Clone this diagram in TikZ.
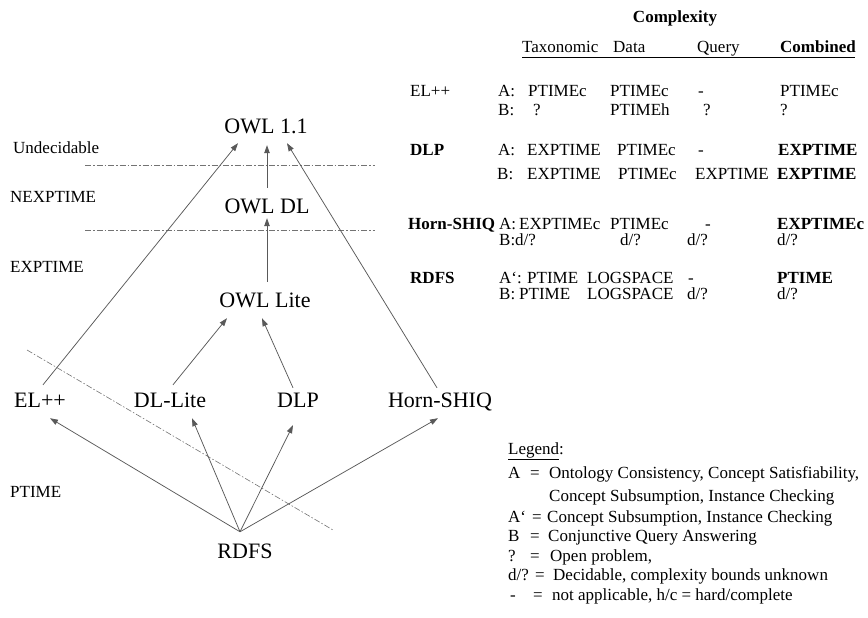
\documentclass[tikz,border=0pt]{standalone}
\usepackage{fontspec}
\setmainfont{Liberation Serif}
\usetikzlibrary{arrows.meta,calc}
\begin{document}
\begin{tikzpicture}[x=1pt,y=-1pt,
  lang/.style={font=\fontsize{22}{26}\selectfont, inner sep=0pt, text height=15pt, text depth=0pt},
  txt/.style={font=\fontsize{17}{20}\selectfont, inner sep=0pt, anchor=base west},
  btxt/.style={txt, font=\fontsize{17}{20}\selectfont\bfseries},
  sub/.style={draw=black!65, line width=0.75pt, -{Triangle[length=8pt,width=5.5pt]}},
  divider/.style={draw=black!55, line width=0.6pt, dash pattern=on 6pt off 2pt on 1.5pt off 2pt}]
\useasboundingbox (0,0) rectangle (868,618);

% ---- language hierarchy ----
\node[lang] (owl11)   at (266,126)   {OWL 1.1};
\node[lang] (owldl)   at (267,206)   {OWL DL};
\node[lang] (owllite) at (265,299.5) {OWL Lite};
\node[lang] (el)      at (40,400)    {EL++};
\node[lang] (dllite)  at (170,400)   {DL-Lite};
\node[lang] (dlp)     at (298,400)   {DLP};
\node[lang] (horn)    at (440,400)   {Horn-SHIQ};
\node[lang] (rdfs)    at (245,551)   {RDFS};

% complexity bands
\node[txt] (bUnd)  at (13,153) {Undecidable};
\node[txt] (bNexp) at (10,202) {NEXPTIME};
\node[txt] (bExp)  at (10,272) {EXPTIME};
\node[txt] (bPt)   at (10,497) {PTIME};
\draw[divider] (85,165) -- (375,165);
\draw[divider] (85,230) -- (375,230);
\draw[divider] (27,350) -- (333,530);

% inclusions
\draw[sub] ($(rdfs.north)+(-5,-11.5)$) -- ($(el.south)+(10,10.5)$);
\draw[sub] ($(rdfs.north)+(-5,-11.5)$) -- ($(dllite.south)+(22,10.5)$);
\draw[sub] ($(rdfs.north)+(-5,-11.5)$) -- ($(dlp.south)+(-5,17.5)$);
\draw[sub] ($(rdfs.north)+(-5,-11.5)$) -- ($(horn.south)+(-2,10.5)$);
\draw[sub] ($(dllite.north)+(3,-7.5)$) -- ($(owllite.south)+(-38,11)$);
\draw[sub] ($(dlp.north)+(-5,-4.5)$) -- ($(owllite.south)+(-3,11)$);
\draw[sub] ($(owllite.north)+(2,-10)$) -- ($(owldl.south)+(0,4.5)$);
\draw[sub] ($(owldl.north)+(0,-10.5)$) -- ($(owl11.south)+(1,11.5)$);
\draw[sub] ($(el.north)+(3,-7.5)$) -- ($(owl11.south)+(-28,9.5)$);
\draw[sub] ($(horn.north)+(-3,-4.5)$) -- ($(owl11.south)+(21,9.5)$);

% ---- complexity table ----
\node[btxt, anchor=base] (cTitle) at (675,23) {Complexity};
\node[txt]  (hTax)  at (522,53) {Taxonomic};
\node[txt]  (hData) at (613,53) {Data};
\node[txt]  (hQry)  at (697,53) {Query};
\node[btxt] (hComb) at (780,53) {Combined};
\draw[line width=0.8pt] (522,57) -- (855,57);

% EL++
\node[txt] (r1l) at (410,96) {EL++};
\node[txt] (r1a) at (498,96) {A:};
\node[txt] (r1t) at (528,96) {PTIMEc};
\node[txt] (r1d) at (610,96) {PTIMEc};
\node[txt] (r1q) at (698,96) {-};
\node[txt] (r1c) at (780,96) {PTIMEc};
\node[txt] (r2a) at (498,115) {B:};
\node[txt] (r2t) at (533,115) {?};
\node[txt] (r2d) at (610,115) {PTIMEh};
\node[txt] (r2q) at (703,115) {?};
\node[txt] (r2c) at (780,115) {?};
% DLP
\node[btxt] (r3l) at (410,155) {DLP};
\node[txt]  (r3a) at (498,155) {A:};
\node[txt]  (r3t) at (527,155) {EXPTIME};
\node[txt]  (r3d) at (617,155) {PTIMEc};
\node[txt]  (r3q) at (698,155) {-};
\node[btxt] (r3c) at (778,155) {EXPTIME};
\node[txt]  (r4a) at (497,179) {B:};
\node[txt]  (r4t) at (527,179) {EXPTIME};
\node[txt]  (r4d) at (618,179) {PTIMEc};
\node[txt]  (r4q) at (695,179) {EXPTIME};
\node[btxt] (r4c) at (777,179) {EXPTIME};
% Horn-SHIQ
\node[btxt] (r5l) at (408,229) {Horn-SHIQ};
\node[txt]  (r5a) at (499,229) {A:};
\node[txt]  (r5t) at (519,229) {EXPTIMEc};
\node[txt]  (r5d) at (610,229) {PTIMEc};
\node[txt]  (r5q) at (705,229) {-};
\node[btxt] (r5c) at (777,229) {EXPTIMEc};
\node[txt]  (r6a) at (499,245) {B:};
\node[txt]  (r6t) at (515,245) {d/?};
\node[txt]  (r6d) at (620,245) {d/?};
\node[txt]  (r6q) at (687,245) {d/?};
\node[txt]  (r6c) at (777,245) {d/?};
% RDFS
\node[btxt] (r7l) at (410,283) {RDFS};
\node[txt]  (r7a) at (499,283) {A‘:};
\node[txt]  (r7t) at (527,283) {PTIME};
\node[txt]  (r7d) at (587,283) {LOGSPACE};
\node[txt]  (r7q) at (688,283) {-};
\node[btxt] (r7c) at (777,283) {PTIME};
\node[txt]  (r8a) at (499,299) {B:};
\node[txt]  (r8t) at (519,299) {PTIME};
\node[txt]  (r8d) at (587,299) {LOGSPACE};
\node[txt]  (r8q) at (687,299) {d/?};
\node[txt]  (r8c) at (777,299) {d/?};

% ---- legend ----
\node[txt] (lg)  at (508,454) {\underline{Legend}:};
\node[txt] (l1s) at (508,478) {A};
\node[txt] (l1e) at (530,478) {=};
\node[txt] (l1t) at (549,478) {Ontology Consistency, Concept Satisfiability,};
\node[txt] (l1u) at (549,501) {Concept Subsumption, Instance Checking};
\node[txt] (l2s) at (508,522) {A‘};
\node[txt] (l2e) at (532,522) {=};
\node[txt] (l2t) at (547,522) {Concept Subsumption, Instance Checking};
\node[txt] (l3s) at (508,541) {B};
\node[txt] (l3e) at (530,541) {=};
\node[txt] (l3t) at (548,541) {Conjunctive Query Answering};
\node[txt] (l4s) at (508,561) {?};
\node[txt] (l4e) at (530,561) {=};
\node[txt] (l4t) at (550,561) {Open problem,};
\node[txt] (l5s) at (508,580) {d/?};
\node[txt] (l5e) at (535,580) {=};
\node[txt] (l5t) at (553,580) {Decidable, complexity bounds unknown};
\node[txt] (l6s) at (510,600) {-};
\node[txt] (l6e) at (533,600) {=};
\node[txt] (l6t) at (552,600) {not applicable, h/c = hard/complete};
\end{tikzpicture}
\end{document}
